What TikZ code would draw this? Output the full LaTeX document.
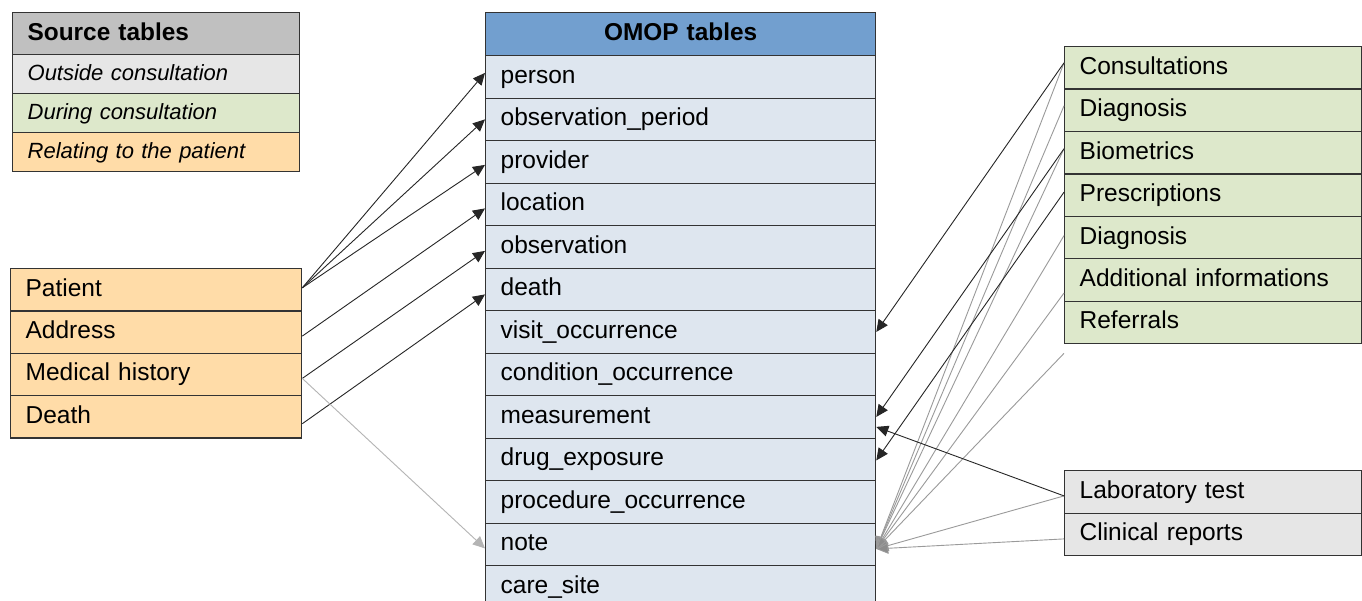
\documentclass[tikz,border=0pt]{standalone}
\usepackage{fontspec}
\setmainfont{Liberation Sans}
\usetikzlibrary{arrows.meta}
\definecolor{legendhead}{HTML}{C0C0C0}
\definecolor{outsidebg}{HTML}{E6E6E6}
\definecolor{duringbg}{HTML}{DDE8CB}
\definecolor{patientbg}{HTML}{FFDCA8}
\definecolor{omophead}{HTML}{729FCF}
\definecolor{omopbg}{HTML}{DEE6EF}
\definecolor{edge}{HTML}{333333}
\definecolor{linegray}{HTML}{9A9A9A}
\definecolor{lightlinegray}{HTML}{B4B4B4}
\tikzset{
  cell/.style={draw=edge, line width=1.3pt, anchor=north west, inner xsep=15pt, inner ysep=0pt,
    align=left, text height=18pt, text depth=5pt, font=\fontsize{24.5}{28}\selectfont},
  omoprow/.style={cell, fill=omopbg, text width=360pt, minimum height=42.5pt},
  omophd/.style={cell, fill=omophead, text width=360pt, minimum height=43pt, align=center,
    font=\fontsize{24.4}{28}\selectfont\bfseries},
  legendhd/.style={cell, fill=legendhead, text width=257pt, minimum height=42pt,
    font=\fontsize{24.4}{28}\selectfont\bfseries},
  legendrow/.style={cell, fill=#1, text width=257pt, minimum height=39pt, text height=17pt, text depth=4pt,
    font=\fontsize{22}{26}\selectfont\itshape},
  patrow/.style={cell, fill=patientbg, text width=261pt, minimum height=42.3pt},
  greenrow/.style={cell, fill=duringbg, text width=267pt, minimum height=42.43pt},
  greyrow/.style={cell, fill=outsidebg, text width=267pt, minimum height=42.5pt},
  darr/.style={draw=black!85, line width=0.9pt, -{Triangle[length=12pt,width=11pt]}},
  garr/.style={draw=linegray, line width=0.9pt, -{Triangle[length=12pt,width=11pt,fill=gray!90]}},
  lgarr/.style={draw=lightlinegray, line width=0.9pt, -{Triangle[length=12pt,width=11pt]}},
}
\begin{document}
\begin{tikzpicture}[x=1pt,y=-1pt]
\useasboundingbox (0,0) rectangle (1362,600);
\clip (0,0) rectangle (1362,600);
\fill[white] (0,0) rectangle (1362,600);

% legend
\node[legendhd] (lh) at (12,12) {Source tables};
\node[legendrow=outsidebg] (l1) at (12,54) {Outside consultation};
\node[legendrow=duringbg] (l2) at (12,93) {During consultation};
\node[legendrow=patientbg] (l3) at (12,132) {Relating to the patient};

% OMOP tables
\node[omophd] (oh) at (485,12) {OMOP tables};
\node[omoprow] (person) at (485,55) {person};
\node[omoprow] (obsper) at (485,97.5) {observation\_period};
\node[omoprow] (provider) at (485,140) {provider};
\node[omoprow] (location) at (485,182.5) {location};
\node[omoprow] (observation) at (485,225) {observation};
\node[omoprow] (death) at (485,267.5) {death};
\node[omoprow] (visit) at (485,310) {visit\_occurrence};
\node[omoprow] (condition) at (485,352.5) {condition\_occurrence};
\node[omoprow] (measurement) at (485,395) {measurement};
\node[omoprow] (drug) at (485,437.5) {drug\_exposure};
\node[omoprow] (procedure) at (485,480) {procedure\_occurrence};
\node[omoprow] (note) at (485,522.5) {note};
\node[omoprow] (caresite) at (485,565) {care\_site};

% patient tables
\node[patrow] (patient) at (10,268) {Patient};
\node[patrow] (address) at (10,310.3) {Address};
\node[patrow] (medhist) at (10,352.6) {Medical history};
\node[patrow] (pdeath) at (10,394.9) {Death};

% during consultation tables
\node[greenrow] (cons) at (1064,46) {Consultations};
\node[greenrow] (diag) at (1064,88.43) {Diagnosis};
\node[greenrow] (bio) at (1064,130.86) {Biometrics};
\node[greenrow] (presc) at (1064,173.29) {Prescriptions};
\node[greenrow] (diagb) at (1064,215.72) {Diagnosis};
\node[greenrow] (addl) at (1064,258.15) {Additional informations};
\node[greenrow] (refer) at (1064,300.58) {Referrals};

% outside consultation tables
\node[greyrow] (lab) at (1064,470) {Laboratory test};
\node[greyrow] (clin) at (1064,512.5) {Clinical reports};

% left connectors
\draw[darr] ([yshift=2pt]patient.east) -- ([yshift=4pt]person.west);
\draw[darr] ([yshift=2pt]patient.east) -- (obsper.west);
\draw[darr] ([yshift=2pt]patient.east) -- ([yshift=-3pt]provider.west);
\draw[darr] ([yshift=-4pt]address.east) -- ([yshift=-4pt]location.west);
\draw[darr] ([yshift=-4pt]medhist.east) -- ([yshift=-4pt]observation.west);
\draw[darr] ([yshift=-7pt]pdeath.east) -- ([yshift=-5pt]death.west);
\draw[lgarr] ([yshift=-4pt]medhist.east) -- ([yshift=-4pt]note.west);

% right connectors (grey, to note)
\draw[garr] ([yshift=5pt]cons.west) -- ([yshift=-4.5pt]note.east);
\draw[garr] ([yshift=4.5pt]diag.west) -- ([yshift=-4.5pt]note.east);
\draw[garr] ([yshift=4pt]bio.west) -- ([yshift=-4.5pt]note.east);
\draw[garr] ([yshift=2pt]diagb.west) -- ([yshift=-4.5pt]note.east);
\draw[garr] ([yshift=-13pt]addl.west) -- ([yshift=-4.5pt]note.east);
\draw[garr] ([yshift=-9pt]refer.south west) -- ([yshift=-4.5pt]note.east);
\draw[garr] ([yshift=-4pt]lab.west) -- ([yshift=-4.5pt]note.east);
\draw[garr] ([yshift=-4.5pt]clin.west) -- ([yshift=-4.5pt]note.east);

% right connectors (dark)
\draw[darr] ([yshift=5pt]cons.west) -- (visit.east);
\draw[darr] ([yshift=4pt]bio.west) -- (measurement.east);
\draw[darr] ([yshift=3pt]presc.west) -- ([yshift=-1pt]drug.east);
\draw[darr] ([yshift=-4pt]lab.west) -- ([yshift=-10pt]measurement.east);
\end{tikzpicture}
\end{document}
